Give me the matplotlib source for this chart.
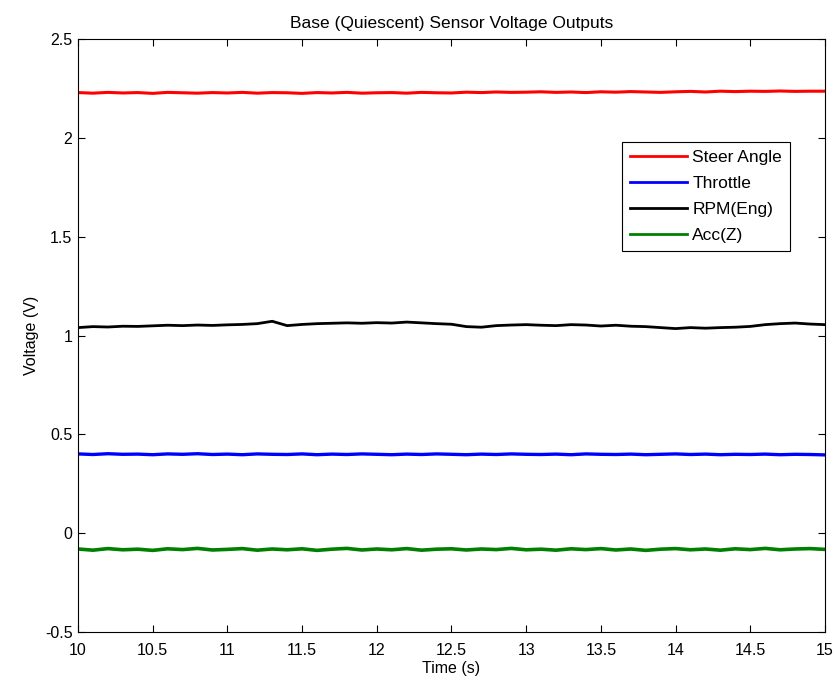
import matplotlib
matplotlib.use("Agg")
import matplotlib.pyplot as plt
import numpy as np

plt.rcParams['font.family'] = ['Liberation Sans', 'DejaVu Sans']

# sample times (s)
time = np.round(np.arange(10.0, 15.01, 0.1), 2)

steer = [2.229,2.226,2.230,2.227,2.229,2.225,2.230,2.228,2.226,2.229,
         2.227,2.230,2.226,2.229,2.228,2.225,2.229,2.227,2.230,2.226,
         2.228,2.229,2.226,2.230,2.228,2.227,2.231,2.229,2.232,2.230,
         2.231,2.233,2.230,2.232,2.229,2.233,2.231,2.234,2.232,2.230,
         2.233,2.235,2.232,2.236,2.234,2.236,2.235,2.237,2.235,2.236,2.236]
throttle = [0.401,0.398,0.402,0.399,0.400,0.397,0.401,0.399,0.402,0.398,
            0.400,0.397,0.401,0.399,0.398,0.401,0.397,0.400,0.398,0.401,
            0.399,0.397,0.400,0.398,0.401,0.399,0.397,0.400,0.398,0.401,
            0.399,0.398,0.400,0.397,0.401,0.399,0.398,0.400,0.397,0.399,
            0.401,0.398,0.400,0.397,0.399,0.398,0.400,0.397,0.399,0.398,0.396]
rpm = [1.040,1.045,1.043,1.047,1.046,1.049,1.052,1.050,1.053,1.051,
       1.054,1.056,1.060,1.072,1.050,1.056,1.060,1.062,1.064,1.062,
       1.065,1.063,1.068,1.064,1.060,1.057,1.045,1.042,1.050,1.053,
       1.055,1.052,1.050,1.055,1.053,1.048,1.052,1.047,1.045,1.040,
       1.035,1.040,1.037,1.040,1.042,1.046,1.055,1.060,1.063,1.058,1.055]
acc_z = [-0.080,-0.086,-0.078,-0.084,-0.081,-0.087,-0.079,-0.083,-0.077,-0.085,
         -0.082,-0.078,-0.086,-0.080,-0.084,-0.079,-0.087,-0.081,-0.077,-0.085,
         -0.080,-0.084,-0.078,-0.086,-0.081,-0.079,-0.085,-0.080,-0.083,-0.077,
         -0.084,-0.081,-0.086,-0.079,-0.083,-0.078,-0.085,-0.080,-0.087,-0.081,
         -0.078,-0.084,-0.080,-0.086,-0.079,-0.083,-0.077,-0.084,-0.080,-0.078,-0.082]

fs = 11.5
fig = plt.figure(figsize=(8.35, 6.82), dpi=100)
ax = fig.add_axes([0.0934, 0.0733, 0.8946, 0.8695])

ax.plot(time, steer, color='#ff0000', lw=2.2, label='Steer Angle')
ax.plot(time, throttle, color='#0000ff', lw=2.4, label='Throttle')
ax.plot(time, rpm, color='black', lw=2.0, label='RPM(Eng)')
ax.plot(time, acc_z, color='#008000', lw=2.6, label='Acc(Z)')

ax.set_xlim(10, 15)
ax.set_ylim(-0.5, 2.5)
ax.set_xticks(np.arange(10, 15.01, 0.5))
ax.set_xticklabels(['10', '10.5', '11', '11.5', '12', '12.5', '13', '13.5', '14', '14.5', '15'])
ax.set_yticks(np.arange(-0.5, 2.51, 0.5))
ax.set_yticklabels(['-0.5', '0', '0.5', '1', '1.5', '2', '2.5'])
ax.tick_params(direction='in', top=True, right=True, length=5, width=0.8, labelsize=fs)
ax.tick_params(axis='x', pad=8)
ax.tick_params(axis='y', pad=4)
for s in ax.spines.values():
    s.set_linewidth(0.8)

ax.set_title('Base (Quiescent) Sensor Voltage Outputs', fontsize=12.5, pad=8)
ax.set_xlabel('Time (s)', fontsize=fs, labelpad=2)
ax.set_ylabel('Voltage (V)', fontsize=fs, labelpad=4)

leg = ax.legend(loc='upper right', bbox_to_anchor=(0.953, 0.826), fontsize=12.5,
                handlelength=3.3, handletextpad=0.3, borderpad=0.45, labelspacing=0.62,
                borderaxespad=0, fancybox=False, framealpha=1, edgecolor='black')
leg.get_frame().set_linewidth(0.8)
for l in leg.get_lines():
    l.set_linewidth(2)

fig.savefig('out.png', dpi=100)
